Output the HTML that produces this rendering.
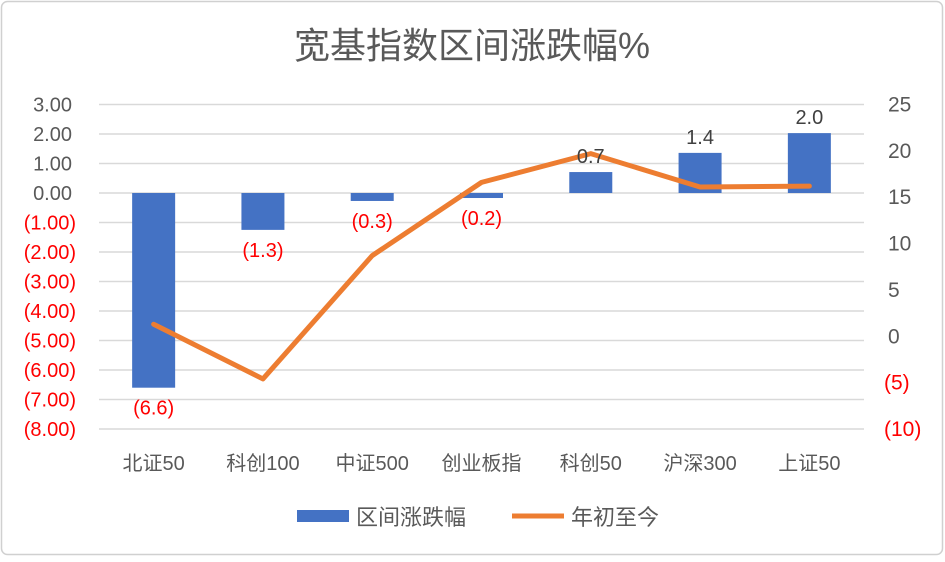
<!DOCTYPE html>
<html><head><meta charset="utf-8"><style>
body{margin:0;background:#fff;font-family:"Liberation Sans","Noto Sans CJK SC",sans-serif}
#c{position:relative;width:945px;height:557px}
</style></head><body>
<div id="c">
<svg id="s" width="945" height="557" xmlns="http://www.w3.org/2000/svg">
<rect x="1.5" y="1.5" width="941" height="553" rx="6" fill="#fff" stroke="#d0d0d0" stroke-width="1.5"/>
<text x="472" y="58" text-anchor="middle" font-size="36" fill="#595959" font-family="Liberation Sans,Noto Sans CJK SC,sans-serif">宽基指数区间涨跌幅%</text>
<g id="grid"></g><g id="bars"></g><g id="line"></g><g id="labels"></g>
<g>
<rect x="297" y="510" width="52" height="12" fill="#4472c4"/>
<text x="356" y="525" font-size="22" fill="#595959">区间涨跌幅</text>
<line x1="512" y1="516" x2="564" y2="516" stroke="#ed7d31" stroke-width="5"/>
<text x="571" y="525" font-size="22" fill="#595959">年初至今</text>
</g>
</svg></div>
<script>
const categories=["北证50","科创100","中证500","创业板指","科创50","沪深300","上证50"];
const barValues=[-6.6,-1.25,-0.27,-0.17,0.71,1.36,2.03];
const barLabels=["(6.6)","(1.3)","(0.3)","(0.2)","0.7","1.4","2.0"];
const lineValues=[1.3,-4.6,8.7,16.6,19.7,16.1,16.2];
const leftTicks=[3,2,1,0,-1,-2,-3,-4,-5,-6,-7,-8];
const rightTicks=[25,20,15,10,5,0,-5,-10];
const NS="http://www.w3.org/2000/svg";
const X0=99,X1=864,T=104.5,B=429;
const yL=v=>T+(3-v)*(B-T)/11;
const yR=v=>T+(25-v)*(B-T)/35;
const step=(X1-X0)/categories.length;
const xC=i=>X0+step*(i+0.5);
function mk(tag,attrs,parent,txt){const e=document.createElementNS(NS,tag);for(const k in attrs)e.setAttribute(k,attrs[k]);if(txt!==undefined)e.textContent=txt;document.getElementById(parent).appendChild(e);return e;}
const fmtL=v=>v<0?"("+Math.abs(v).toFixed(2)+")":v.toFixed(2);
const fmtR=v=>v<0?"("+Math.abs(v)+")":String(v);
leftTicks.forEach(v=>{
 const g=mk("line",{x1:X0,x2:X1,y1:yL(v),y2:yL(v),stroke:"#d9d9d9","stroke-width":1.5},"grid");
 
 
 const t=mk("text",{x:v<0?76:72,y:yL(v)+7,"text-anchor":"end","font-size":20,fill:v<0?"#ff0000":"#595959"},"labels",fmtL(v));
 
 
});
rightTicks.forEach(v=>{
 const t=mk("text",{x:v<0?884:888,y:yR(v)+7,"font-size":21,fill:v<0?"#ff0000":"#595959"},"labels",fmtR(v));
 
 
});
categories.forEach((c,i)=>{
 const v=barValues[i],y0=yL(0),y=yL(v);
 const r=mk("rect",{x:xC(i)-21.5,width:43,y:Math.min(y0,y),height:Math.abs(y-y0),fill:"#4472c4"},"bars");
 
 
 const ly=v<0?y+27:y-9;
 const l=mk("text",{x:xC(i),y:ly,"text-anchor":"middle","font-size":20,fill:v<0?"#ff0000":"#404040"},"labels",barLabels[i]);
 
 
 const ct=mk("text",{x:xC(i),y:470,"text-anchor":"middle","font-size":20,fill:"#595959"},"labels",c);
 
 
});
const pts=lineValues.map((v,i)=>xC(i)+","+yR(v)).join(" ");
const pl=mk("polyline",{points:pts,fill:"none",stroke:"#ed7d31","stroke-width":5,"stroke-linejoin":"round","stroke-linecap":"round"},"line");


</script></body></html>
